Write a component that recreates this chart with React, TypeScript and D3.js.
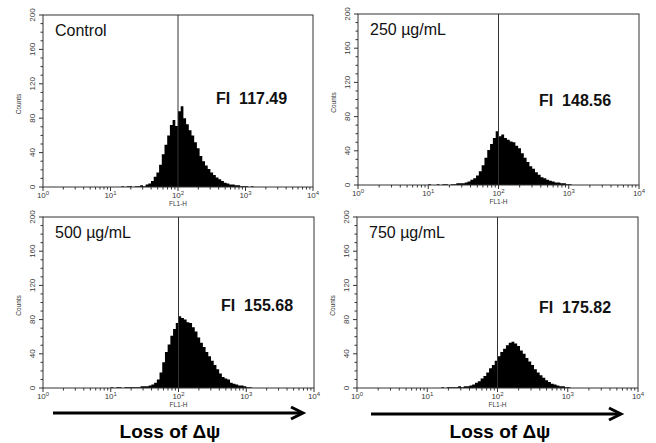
import React from "react";
import * as d3 from "d3";

// ---- data ----
const panelLabels = ["Control", "250 µg/mL", "500 µg/mL", "750 µg/mL"];
const fiValues = ["117.49", "148.56", "155.68", "175.82"];
const yTicks = [0, 40, 80, 120, 160, 200];
const xTickExps = [0, 1, 2, 3, 4];
const markerValue = 100;
const binWidthLog = 0.04;
const binStarts = [1.16, 1.0, 1.0, 1.2];

const countsControl = [
  1, 0, 1, 1, 0, 1, 1, 2, 1, 3, 4, 7, 12, 17, 26, 38, 49, 60, 72, 78, 71, 88, 94, 80, 73, 66, 60, 52, 45, 36,
  30, 25, 21, 17, 14, 11, 9, 7, 5, 4, 3, 3, 2, 2, 1, 1, 1, 0, 1,
];
const counts250 = [
  1, 0, 0, 1, 0, 1, 1, 0, 1, 1, 2, 2, 2, 3, 4, 6, 8, 11, 16, 23, 32, 41, 48, 55, 63, 57, 59, 55, 53, 51, 50, 46,
  43, 37, 32, 27, 22, 19, 15, 12, 9, 8, 6, 5, 4, 3, 3, 2, 2, 1, 1,
];
const counts500 = [
  1, 0, 1, 1, 0, 1, 1, 1, 1, 1, 1, 2, 2, 2, 3, 4, 6, 10, 18, 30, 42, 51, 61, 69, 76, 84, 82, 80, 77, 76, 71, 66,
  59, 53, 48, 42, 37, 32, 27, 22, 17, 13, 11, 10, 6, 5, 4, 3, 3, 2, 1, 1,
];
const counts750 = [
  1, 0, 1, 1, 1, 1, 2, 1, 2, 2, 3, 4, 6, 8, 11, 14, 18, 23, 27, 32, 37, 42, 46, 50, 53, 54, 52, 49, 44, 40, 35,
  31, 27, 22, 18, 15, 12, 9, 7, 5, 4, 3, 2, 2, 1, 1,
];
const allCounts = [countsControl, counts250, counts500, counts750];
const xAxisTitle = "FL1-H";
const yAxisTitle = "Counts";
const arrowCaption = "Loss of Δψ";

// ---- layout ----
const W = 656;
const H = 443;
const panels = [
  { x0: 43, x1: 313, y0: 15, y1: 187, fx: 216, fy: 104 },
  { x0: 358, x1: 639, y0: 14, y1: 185, fx: 539, fy: 106 },
  { x0: 43, x1: 314, y0: 217, y1: 388, fx: 221, fy: 311 },
  { x0: 357, x1: 638, y0: 217, y1: 388, fx: 539, fy: 313 },
];
const arrows = [
  { x0: 53, x1: 303, y: 413, tx: 170, ty: 438 },
  { x0: 371, x1: 621, y: 414, tx: 500, ty: 438 },
];

const FONT = "'Liberation Sans', Arial, Helvetica, sans-serif";
const AX = "#333";
const TXT = "#3a3a3a";

function Panel({ idx }: { idx: number }) {
  const p = panels[idx];
  const x = d3.scaleLog().domain([1, 1e4]).range([p.x0, p.x1]);
  const y = d3.scaleLinear().domain([0, 200]).range([p.y1, p.y0]);
  const counts = allCounts[idx];
  const start = binStarts[idx];
  const pts = counts.map((c, i) => ({ v: Math.pow(10, start + i * binWidthLog), c }));
  pts.push({ v: Math.pow(10, start + counts.length * binWidthLog), c: counts[counts.length - 1] });
  const area = d3
    .area<{ v: number; c: number }>()
    .x((d) => x(d.v))
    .y0(y(0))
    .y1((d) => y(d.c))
    .curve(d3.curveStepAfter);

  const minorY = d3.range(0, 201, 10).filter((v) => v % 40 !== 0);
  const minorX: number[] = [];
  for (let e = 0; e < 4; e++) for (let m = 2; m <= 9; m++) minorX.push(m * Math.pow(10, e));
  const xc = (p.x0 + p.x1) / 2;
  const yc = (p.y0 + p.y1) / 2;

  return (
    <g>
      <path d={area(pts) || ""} fill="#000" />
      <line x1={x(markerValue)} x2={x(markerValue)} y1={p.y0} y2={p.y1} stroke="#333" strokeWidth={1} />
      <rect x={p.x0} y={p.y0} width={p.x1 - p.x0} height={p.y1 - p.y0} fill="none" stroke={AX} strokeWidth={1} />
      {/* y ticks */}
      {yTicks.map((t) => (
        <g key={"yt" + t}>
          <line x1={p.x0 - 4} x2={p.x0} y1={y(t)} y2={y(t)} stroke={AX} />
          <text
            transform={`translate(${p.x0 - 8},${y(t)}) rotate(-90)`}
            textAnchor="middle"
            fontSize={8}
            fontFamily={FONT}
            fill={TXT}
          >
            {t}
          </text>
        </g>
      ))}
      {minorY.map((t) => (
        <line key={"ym" + t} x1={p.x0 - 2.5} x2={p.x0} y1={y(t)} y2={y(t)} stroke={AX} />
      ))}
      <text
        transform={`translate(${p.x0 - 22},${yc + 3}) rotate(-90)`}
        textAnchor="middle"
        fontSize={6.5}
        fontFamily={FONT}
        fill={TXT}
      >
        {yAxisTitle}
      </text>
      {/* x ticks */}
      {xTickExps.map((e) => (
        <g key={"xt" + e}>
          <line x1={x(Math.pow(10, e))} x2={x(Math.pow(10, e))} y1={p.y1} y2={p.y1 + 4} stroke={AX} />
          <text x={x(Math.pow(10, e))} y={p.y1 + 11} textAnchor="middle" fontSize={8} fontFamily={FONT} fill={TXT}>
            10
            <tspan dy={-3} fontSize={6}>
              {e}
            </tspan>
          </text>
        </g>
      ))}
      {minorX.map((v) => (
        <line key={"xm" + v} x1={x(v)} x2={x(v)} y1={p.y1} y2={p.y1 + 2.5} stroke={AX} />
      ))}
      <text x={xc} y={p.y1 + 19} textAnchor="middle" fontSize={6.5} fontFamily={FONT} fill={TXT}>
        {xAxisTitle}
      </text>
      {/* labels */}
      <text x={p.x0 + 12} y={p.y0 + 21} fontSize={16} fontFamily={FONT} fill="#111">
        {panelLabels[idx]}
      </text>
      <text x={p.fx} y={p.fy} fontSize={16} fontWeight="bold" fontFamily={FONT} fill="#111" xmlSpace="preserve" style={{ whiteSpace: "pre" }}>
        {"FI  " + fiValues[idx]}
      </text>
    </g>
  );
}

export default function App() {
  return (
    <svg width={W} height={H} style={{ position: "absolute", left: 0, top: 0, background: "#fff" }}>
      <rect x={0} y={0} width={W} height={H} fill="#fff" />
      {panels.map((_, i) => (
        <Panel key={i} idx={i} />
      ))}
      {arrows.map((a, i) => (
        <g key={"ar" + i}>
          <line x1={a.x0} x2={a.x1 - 2} y1={a.y} y2={a.y} stroke="#000" strokeWidth={3} />
          <polyline
            points={`${a.x1 - 12},${a.y - 6} ${a.x1},${a.y} ${a.x1 - 12},${a.y + 6}`}
            fill="none"
            stroke="#000"
            strokeWidth={3}
            strokeLinejoin="miter"
          />
          <text x={a.tx} y={a.ty} textAnchor="middle" fontSize={19} fontWeight="bold" fontFamily={FONT} fill="#000">
            {arrowCaption}
          </text>
        </g>
      ))}
    </svg>
  );
}
